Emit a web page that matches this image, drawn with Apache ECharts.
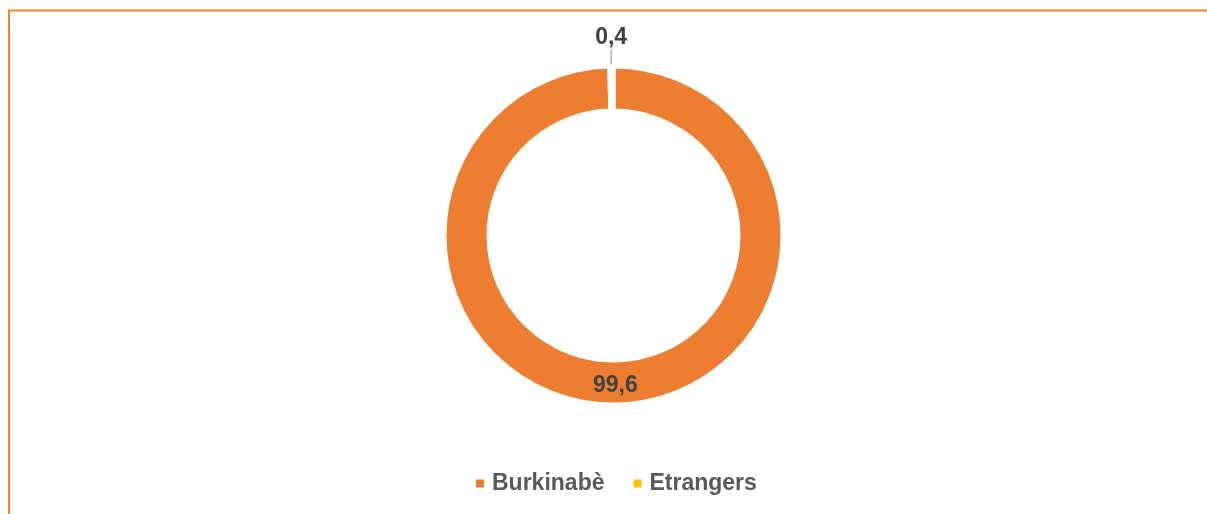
<!DOCTYPE html>
<html>
<head>
<meta charset="utf-8">
<script src="https://cdn.jsdelivr.net/npm/echarts@6/dist/echarts.min.js"></script>
<style>
  html, body { margin: 0; padding: 0; background: #fff; }
  #chart { width: 1207px; height: 514px; }
</style>
</head>
<body>
<div id="chart"></div>
<script>
// nationalite de la population (%)
var categories = ['Burkinabè', 'Etrangers'];
var values = [99.6, 0.4];
var colors = ['#ED7D31', '#FFC000'];

var FONT = '"Liberation Sans", Arial, sans-serif';

var chart = echarts.init(document.getElementById('chart'));

var pieData = categories.map(function (name, i) {
    var item = { name: name, value: values[i], itemStyle: { color: colors[i] } };
    if (i === 1) {
        // petite part : etiquette a l'exterieur avec trait
        item.label = { position: 'outside' };
        item.labelLine = { show: true };
    }
    return item;
});

chart.setOption({
    animation: false,
    backgroundColor: '#fff',
    graphic: [{
        type: 'rect',
        shape: { x: 9, y: 10.5, width: 1300, height: 600 },
        style: { fill: 'none', stroke: '#F5822F', lineWidth: 2 },
        silent: true
    }],
    legend: {
        data: categories,
        left: 476,
        top: 472,
        padding: 0,
        icon: 'rect',
        itemWidth: 8,
        itemHeight: 8,
        itemGap: 29,
        itemStyle: { borderWidth: 0 },
        selectedMode: false,
        textStyle: {
            fontFamily: FONT,
            fontWeight: 'bold',
            fontSize: 23,
            color: '#595959',
            padding: [0, 0, 0, 3]
        }
    },
    series: [{
        type: 'pie',
        center: [613.5, 235.5],
        radius: [125, 169],
        startAngle: 90,
        clockwise: true,
        avoidLabelOverlap: false,
        emphasis: { disabled: true },
        itemStyle: { borderColor: '#fff', borderWidth: 4 },
        label: {
            show: true,
            position: 'inside',
            formatter: function (p) { return String(p.value).replace('.', ','); },
            fontFamily: FONT,
            fontWeight: 'bold',
            fontSize: 23,
            color: '#404040'
        },
        labelLine: {
            show: false,
            length: 16,
            length2: 0,
            lineStyle: { color: '#A6A6A6', width: 1.3 }
        },
        labelLayout: function (p) {
            if (p.dataIndex !== 1 || !p.labelLinePoints) return {};
            var end = p.labelLinePoints[p.labelLinePoints.length - 1];
            return { x: end[0], y: end[1] - 1, align: 'center', verticalAlign: 'bottom' };
        },
        data: pieData
    }]
});
</script>
</body>
</html>
